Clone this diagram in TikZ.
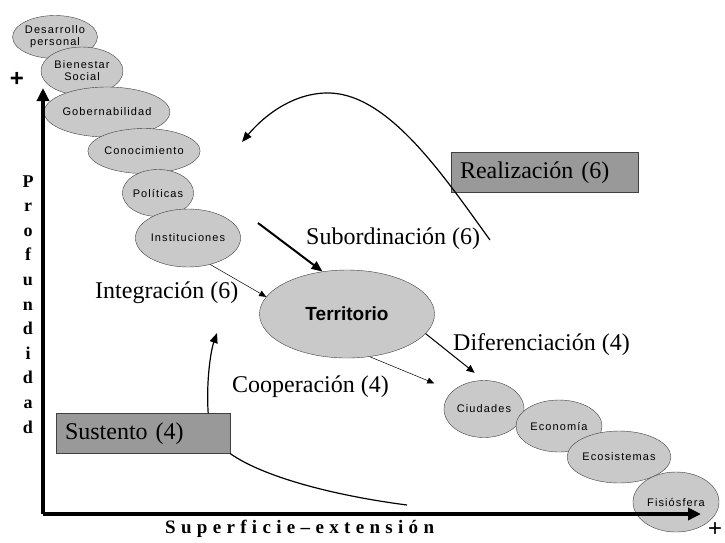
\documentclass[tikz,border=0pt]{standalone}
\usepackage{fontspec}
\setmainfont{Liberation Serif}
\newfontfamily\elipsefont[LetterSpace=10]{Liberation Sans}
\newfontfamily\terrfont{Liberation Sans}
\newfontfamily\ejefont[LetterSpace=28]{Liberation Serif}
\usetikzlibrary{shapes.geometric,arrows.meta}
\begin{document}
\begin{tikzpicture}[x=1pt, y=-1pt,
    elipse/.style={ellipse, draw=gray!50!black, fill=gray!42, inner sep=0pt, align=center,
        font=\elipsefont\fontsize{11}{12}\selectfont},
    caja/.style={draw=black!75, fill=gray!80, minimum height=39pt, inner sep=9pt, align=left,
        font=\fontsize{24}{24}\selectfont},
    etiqueta/.style={inner sep=0pt, anchor=west, font=\fontsize{24}{24}\selectfont},
    letra/.style={inner sep=0pt, anchor=base, font=\bfseries\fontsize{18}{18}\selectfont},
    eje/.style={line width=3.5pt, -{Triangle[length=13pt,width=12pt]}},
    curva/.style={line width=1.2pt, -{Triangle[length=10pt,width=8pt]}}
]
    \useasboundingbox (0,0) rectangle (725,542);

    % elipses de arriba
    \node[elipse, minimum width=83pt, minimum height=43pt] (des) at (55,37) {Desarrollo\\personal};
    \node[elipse, minimum width=82pt, minimum height=48pt] (bie) at (82,71) {Bienestar\\Social};
    \node[elipse, minimum width=106pt, minimum height=50pt] (gob) at (107,112) {Gobernabilidad};
    \node[elipse, minimum width=94pt, minimum height=45pt] (con) at (144,151) {Conocimiento};
    \node[elipse, minimum width=67pt, minimum height=47pt] (pol) at (158,193) {Políticas};
    \node[elipse, minimum width=98pt, minimum height=58pt] (ins) at (188,238) {Instituciones};

    % territorio
    \node[elipse, minimum width=175pt, minimum height=88pt,
          font=\terrfont\bfseries\fontsize{19}{20}\selectfont] (terr) at (347,314) {Territorio};

    % elipses de abajo
    \node[elipse, minimum width=80pt, minimum height=57pt] (ciu) at (484,409) {Ciudades};
    \node[elipse, minimum width=86pt, minimum height=52pt] (eco) at (559,426) {Economía};
    \node[elipse, minimum width=101pt, minimum height=52pt] (ecs) at (619,457) {Ecosistemas};
    \node[elipse, minimum width=86pt, minimum height=60pt] (fis) at (676,502) {Fisiósfera};

    % ejes
    \coordinate (orig) at (43,514);
    \coordinate (arriba) at (43,88);
    \coordinate (derecha) at (701,514);
    \draw[eje] (orig) -- (arriba);
    \draw[eje] (orig) -- (derecha);
    \node[font=\terrfont\bfseries\fontsize{24}{24}\selectfont, inner sep=0pt] (mas1) at (17,79) {+};
    \node[font=\terrfont\fontsize{24}{24}\selectfont, inner sep=0pt] (mas2) at (715,530) {+};
    \foreach \l [count=\i] in {P,r,o,f,u,n,d,i,d,a,d}
        \node[letra] (prof\i) at (28,{187+(\i-1)*24.6}) {\l};
    \node[inner sep=0pt, anchor=base west, font=\ejefont\bfseries\fontsize{19}{19}\selectfont]
        (sup) at (165,533) {Superficie–extensión};

    % cajas
    \node[caja, minimum width=187pt, text width=169pt] (real) at (544.5,172.5) {Realización (6)};
    \node[caja, minimum width=174pt, text width=156pt] (sus) at (143,433.5) {Sustento (4)};

    % etiquetas
    \node[etiqueta] (lsub) at (306,239) {Subordinación (6)};
    \node[etiqueta] (lint) at (95,293) {Integración (6)};
    \node[etiqueta] (ldif) at (453,345) {Diferenciación (4)};
    \node[etiqueta] (lcoo) at (232,387) {Cooperación (4)};

    % flechas
    \coordinate (subini) at (258,223);
    \draw[line width=2pt, -{Triangle[length=11pt,width=9pt]}] (subini) -- (terr.120);
    \draw[line width=0.5pt, -{Triangle[length=7pt,width=6pt]}] (ins.-50) -- (terr.168);
    \draw[line width=0.5pt, -{Triangle[length=7pt,width=6pt]}, shorten >=20pt] (terr.-62) -- (ciu.150);
    \draw[line width=1pt, -{Triangle[length=8pt,width=7pt]}, shorten >=12pt] (terr.-14) -- (ciu.north);

    % curvas
    \coordinate (realini) at (490,240);
    \coordinate (realfin) at (242,142);
    \draw[curva] (realini) .. controls (445,178) and (390,95) .. (330,93)
        .. controls (292,92) and (262,118) .. (realfin);
    \coordinate (susfin) at (217,333);
    \draw[curva] ([xshift=-22pt]sus.north east) .. controls (206,380) and (211,350) .. (susfin);
    \coordinate (suscola) at (407,505);
    \draw[line width=1.2pt] (sus.south east) .. controls (262,476) and (330,495) .. (suscola);
\end{tikzpicture}
\end{document}
